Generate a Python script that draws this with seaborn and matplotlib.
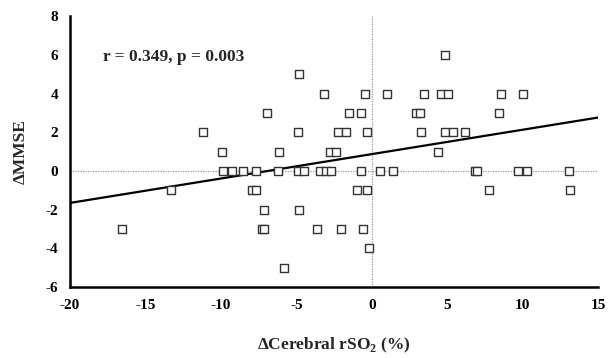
import matplotlib
matplotlib.use("Agg")
import matplotlib.pyplot as plt
from matplotlib.ticker import MultipleLocator
import numpy as np
import pandas as pd
import seaborn as sns

# change in cerebral rSO2 (%) and change in MMSE
d_rso2 = [
    4.83,                                                   # 6
    -4.83,                                                  # 5
    -3.18, -0.42, 1.04, 3.44, 4.6, 5.05, 8.54, 10.02,       # 4
    -6.97, -1.5, -0.71, 2.96, 3.2, 8.43,                    # 3
    -11.17, -4.88, -2.23, -1.7, -0.29, 3.29, 4.83, 5.39, 6.16,  # 2
    -9.91, -6.14, -2.74, -2.4, 4.39,                        # 1
    -9.85, -9.25, -8.52, -7.64, -6.2, -4.9, -4.48, -3.44, -3.0,
    -2.67, -0.72, 0.55, 1.41, 6.85, 7.0, 9.7, 10.29, 13.07,  # 0
    -13.31, -7.97, -7.7, -0.99, -0.29, 7.77, 13.16,         # -1
    -7.13, -4.81,                                           # -2
    -16.54, -7.3, -7.15, -3.62, -2.03, -0.57,               # -3
    -0.2,                                                   # -4
    -5.83,                                                  # -5
]
d_mmse = (
    [6] + [5] + [4] * 8 + [3] * 6 + [2] * 9 + [1] * 5 + [0] * 18
    + [-1] * 7 + [-2] * 2 + [-3] * 6 + [-4] + [-5]
)

# regression line as drawn in the figure
fit_slope = 0.126
fit_intercept = 0.87
stats_text = "r = 0.349, p = 0.003"

x_range = (-20, 15)
y_range = (-6, 8)

df = pd.DataFrame({"rso2": d_rso2, "mmse": d_mmse})

sns.set_style("white")
plt.rcParams["font.family"] = ["Liberation Serif", "DejaVu Serif"]
plt.rcParams["axes.unicode_minus"] = False
plt.rcParams["mathtext.fontset"] = "custom"
plt.rcParams["mathtext.rm"] = "Liberation Serif:bold"
plt.rcParams["mathtext.bf"] = "Liberation Serif:bold"

fig = plt.figure(figsize=(6.09, 3.58), dpi=100)
ax = fig.add_axes([0.115, 0.198, 0.867, 0.757])

# dotted zero reference lines
ax.axhline(0, color="#999999", lw=0.9, ls=(0, (1, 1)), zorder=1)
ax.axvline(0, color="#999999", lw=0.9, ls=(0, (1, 1)), zorder=1)

fit_x = np.array(x_range, dtype=float)
sns.lineplot(x=fit_x, y=fit_intercept + fit_slope * fit_x, ax=ax,
             color="black", lw=1.6, zorder=2)

sns.scatterplot(data=df, x="rso2", y="mmse", ax=ax, marker="s", s=40,
                facecolor="white", edgecolor="#333333", linewidth=1.0,
                zorder=3)

ax.set_xlim(*x_range)
ax.set_ylim(*y_range)
ax.xaxis.set_major_locator(MultipleLocator(5))
ax.xaxis.set_minor_locator(MultipleLocator(2.5))
ax.yaxis.set_major_locator(MultipleLocator(2))

for side in ["top", "right"]:
    ax.spines[side].set_visible(False)
for side in ["left", "bottom"]:
    ax.spines[side].set_linewidth(1.8)
    ax.spines[side].set_color("black")

ax.tick_params(axis="both", which="both", direction="inout", length=5,
               width=1.2, colors="black", labelsize=11, pad=6)
ax.tick_params(axis="x", which="minor", length=4)
for lab in ax.get_xticklabels() + ax.get_yticklabels():
    lab.set_fontweight("bold")

ax.set_xlabel(r"ΔCerebral rSO$_2$ (%)", fontsize=12.5, fontweight="bold",
              labelpad=17)
ax.set_ylabel("ΔMMSE", fontsize=12.5, fontweight="bold", labelpad=12)

ax.text(-17.8, 5.9, stats_text, fontsize=12.5, fontweight="bold",
        ha="left", va="center")

fig.savefig("out.png", dpi=100)
